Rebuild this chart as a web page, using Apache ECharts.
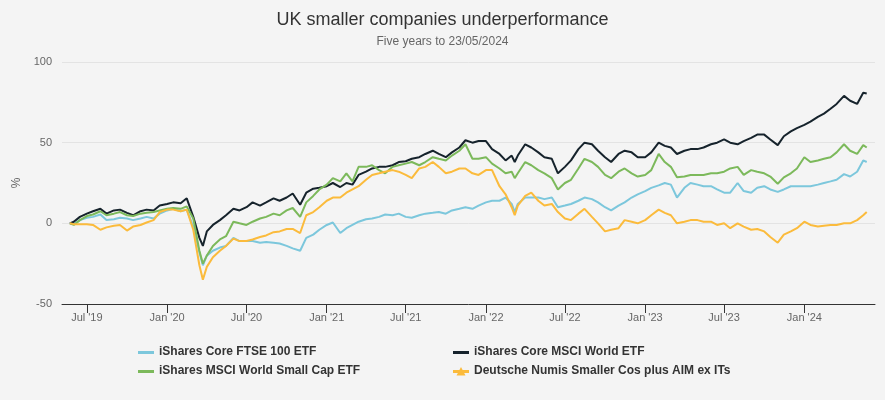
<!DOCTYPE html>
<html>
<head>
<meta charset="utf-8">
<script src="https://cdn.jsdelivr.net/npm/echarts@6/dist/echarts.min.js"></script>
<style>
html,body{margin:0;padding:0;background:#f4f4f4;}
#chart{width:885px;height:400px;}
</style>
</head>
<body>
<div id="chart"></div>
<script>
var dates = [
'2019-05-23','2019-06-01','2019-06-15','2019-07-01','2019-07-15','2019-08-01','2019-08-15','2019-09-01','2019-09-15','2019-10-01','2019-10-15','2019-11-01','2019-11-15','2019-12-01','2019-12-15',
'2020-01-01','2020-01-15','2020-02-01','2020-02-15','2020-03-01','2020-03-15','2020-03-23','2020-04-01','2020-04-15','2020-05-01','2020-05-15','2020-06-01','2020-06-15','2020-07-01','2020-07-15','2020-08-01','2020-08-15','2020-09-01','2020-09-15','2020-10-01','2020-10-15','2020-11-01','2020-11-15','2020-12-01','2020-12-15',
'2021-01-01','2021-01-15','2021-02-01','2021-02-15','2021-03-01','2021-03-15','2021-04-01','2021-04-15','2021-05-01','2021-05-15','2021-06-01','2021-06-15','2021-07-01','2021-07-15','2021-08-01','2021-08-15','2021-09-01','2021-09-15','2021-10-01','2021-10-15','2021-11-01','2021-11-15','2021-12-01','2021-12-15',
'2022-01-01','2022-01-15','2022-02-01','2022-02-15','2022-03-01','2022-03-08','2022-03-15','2022-04-01','2022-04-15','2022-05-01','2022-05-15','2022-06-01','2022-06-15','2022-07-01','2022-07-15','2022-08-01','2022-08-15','2022-09-01','2022-09-15','2022-10-01','2022-10-15','2022-11-01','2022-11-15','2022-12-01','2022-12-15',
'2023-01-01','2023-01-15','2023-02-01','2023-02-15','2023-03-01','2023-03-15','2023-04-01','2023-04-15','2023-05-01','2023-05-15','2023-06-01','2023-06-15','2023-07-01','2023-07-15','2023-08-01','2023-08-15','2023-09-01','2023-09-15','2023-10-01','2023-10-15','2023-11-01','2023-11-15','2023-12-01','2023-12-15',
'2024-01-01','2024-01-15','2024-02-01','2024-02-15','2024-03-01','2024-03-15','2024-04-01','2024-04-15','2024-05-01','2024-05-15','2024-05-23'
];

var ftse100 = [
0,-0.5,2,3.5,4,5.5,2,2.5,3.5,3,2,3,4,3,6,
8,9,7.5,8.5,-2,-18,-26,-20,-17,-15,-14,-9,-11,-11,-11,-12,-11.5,-12,-12.5,-14,-15.5,-17,-9,-7,-4,
-1,0.5,-6,-3,-1,1,2.5,3,4,5.5,5,6,4,3.5,5,6,6.5,7,6,8,9,10,9,11,
13,14,14,16,12,7,12,16,16,16,15,16,10,11,12,14,16,15,13,10,8,11,13,16,18,
20,22,23.5,25,24,16,22,25,24,23,23,21,19,19,25,20,19,22,23,21,19.5,21,23,23,
23,23,24,25,26,27,30.5,29,32,39,38
];

var msciWorld = [
0,1,4,6,7.5,9,6,8,8.5,6.5,5,7.5,8.5,8,11,
12,13,12.5,15.5,4,-9,-14,-5,-1,2,5,9,8,10,13,11,13,15.5,14,16,18.5,11.5,19,21.5,22,
23,25,22.5,25,24,30,32,34,35,35,36,38,38.5,40,41,43,45,43,41,44,47,51.5,50,51,
51,46,43,39,42,38,42,49,47,44,41,40,31,35,39,46,50,49,45,41,38,43,45,44,41,
41,44,50,48,47,43,45,46,46,47,49,50,52,50,49,51,53,55,55,52,48.5,54,57,59,
61,63,66,68,71,74,79,76,74,81,80.5
];

var worldSmallCap = [
0,-1,2,4.5,5.5,7.5,5,6,7,5,4.5,6,6.5,7,8,
9,9.5,9,10.5,3,-17,-25,-20,-14,-10,-8,1,0,-1,1,3,4,6,5,8,9.5,4,13,17,21,
24,28,26,31,26,35,35,36,33,31,35,36,37,38,36,38,41,40,39,42,45,49,40,40,
41,37,34,31,32,28,31,38,36,33,31,28,21,25,27,34,40,38,35,30,28,32,34,31,29,
30,33,43,38,35,28.5,29,30,30,30,31,31,32,34,35,30,33,32,31,29,24.5,28.5,31,34,
41,38,39,40,41,44,49,45,43,48.5,47
];

var numisSmaller = [
0,-0.5,-0.5,-0.5,-1,-4,-2.5,-1.5,-1,-4.5,-2,-1,0.5,2,7,
8.5,8.5,7.5,8.5,-4,-26,-35,-27,-21,-17,-14,-9.5,-11,-11,-10,-8.5,-7.5,-5.5,-5,-3.5,-3.5,-6,5,7,10,
14,16,16,19,21,23,27,30,31,32,33,32,30,28,34,35,38,35,31,32,34,34,31,30,
33,33,23,18,10,5,11,17,19,14,11,12,7,3,2,6,9,4,0,-5,-4,-3,2,1,0,
2,5,8.5,6.5,5,0,1,2,2,1,1,-1,0,-3,0,-2,-4,-3.5,-5,-8.5,-12,-7,-5,-3,
1,-1,-2,-1.5,-1,-1,0,0,2,5,7
];

var seriesNames = ['iShares Core FTSE 100 ETF','iShares Core MSCI World ETF','iShares MSCI World Small Cap ETF','Deutsche Numis Smaller Cos plus AIM ex ITs'];
var seriesColors = ['#7cc7dc','#16232c','#7cb95b','#fbbb3c'];
var seriesValues = [ftse100, msciWorld, worldSmallCap, numisSmaller];

var tickDates = ['2019-07-01','2020-01-01','2020-07-01','2021-01-01','2021-07-01','2022-01-01','2022-07-01','2023-01-01','2023-07-01','2024-01-01'];
var tickLabels = ["Jul '19","Jan '20","Jul '20","Jan '21","Jul '21","Jan '22","Jul '22","Jan '23","Jul '23","Jan '24"];
var yTicks = [-50, 0, 50, 100];

function ts(s){ var p = s.split('-'); return Date.UTC(+p[0], +p[1]-1, +p[2]); }
var tickTimes = tickDates.map(ts);

var series = seriesNames.map(function(name, i){
  return {
    name: name,
    type: 'line',
    showSymbol: false,
    symbol: 'none',
    color: seriesColors[i],
    lineStyle: {width: 2, color: seriesColors[i]},
    itemStyle: {color: seriesColors[i]},
    emphasis: {disabled: true},
    data: dates.map(function(d, k){ return [ts(d), seriesValues[i][k]]; })
  };
});

var lineIcon = 'path://M0,0L0.01,0L0,0.01Z M0,4L16,4L16,7L0,7Z M16,10L15.99,10L16,9.99Z';
var triIcon = 'path://M0,0L0.01,0L0,0.01Z M0,4L16,4L16,7L0,7Z M8,1L12.5,9.5L3.5,9.5Z M16,10L15.99,10L16,9.99Z';

var legendText = {color:'#333', fontSize:12, fontWeight:'bold', fontFamily:'Liberation Sans, Arial, sans-serif'};

var chart = echarts.init(document.getElementById('chart'), null, {renderer:'canvas'});
chart.setOption({
  backgroundColor: '#f4f4f4',
  animation: false,
  title: [
    {text:'UK smaller companies underperformance', left:'center', top:6,
     textStyle:{fontSize:18, fontWeight:'normal', color:'#333', fontFamily:'Liberation Sans, Arial, sans-serif'}},
    {text:'Five years to 23/05/2024', left:'center', top:31,
     textStyle:{fontSize:12, fontWeight:'normal', color:'#666', fontFamily:'Liberation Sans, Arial, sans-serif'}}
  ],
  grid: {left:62, right:10, top:62, bottom:96, containLabel:false},
  legend: [
    {orient:'vertical', left:138, top:346, padding:0, itemWidth:16, itemHeight:10, itemGap:7,
     data:[{name:seriesNames[0], icon:lineIcon},{name:seriesNames[2], icon:lineIcon}],
     textStyle:legendText, selectedMode:false},
    {orient:'vertical', left:453, top:346, padding:0, itemWidth:16, itemHeight:10, itemGap:7,
     data:[{name:seriesNames[1], icon:lineIcon},{name:seriesNames[3], icon:triIcon}],
     textStyle:legendText, selectedMode:false}
  ],
  xAxis: {
    type:'value',
    min: ts('2019-05-05'),
    max: ts('2024-06-11'),
    axisLine:{show:true, onZero:false, lineStyle:{color:'#333', width:1}},
    axisTick:{show:true, length:9, lineStyle:{color:'#333'}, customValues: tickTimes},
    axisLabel:{
      color:'#666', fontSize:11, margin:8, fontFamily:'Liberation Sans, Arial, sans-serif',
      customValues: tickTimes,
      formatter:function(v){
        for (var i=0;i<tickTimes.length;i++){ if (Math.abs(tickTimes[i]-v) < 43200000) return tickLabels[i]; }
        return '';
      }
    },
    splitLine:{show:false}
  },
  yAxis: {
    type:'value',
    min: yTicks[0], max: yTicks[yTicks.length-1], interval:50,
    name:'%', nameLocation:'middle', nameGap:36, nameRotate:90,
    nameTextStyle:{color:'#666', fontSize:12, fontFamily:'Liberation Sans, Arial, sans-serif'},
    axisLine:{show:false}, axisTick:{show:false},
    axisLabel:{color:'#666', fontSize:11, margin:10, fontFamily:'Liberation Sans, Arial, sans-serif'},
    splitLine:{lineStyle:{color:'#e3e3e3', width:1}}
  },
  series: series
});
</script>
</body>
</html>
